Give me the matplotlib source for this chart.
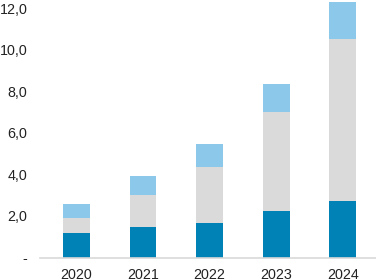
import matplotlib
matplotlib.use("Agg")
from matplotlib import pyplot as plt
import numpy as np

years = ["2020", "2021", "2022", "2023", "2024"]
base = [1.2, 1.45, 1.68, 2.26, 2.71]
middle = [0.7, 1.56, 2.70, 4.77, 7.81]
upper = [0.7, 0.92, 1.07, 1.32, 1.80]
y_ticks = [0, 2, 4, 6, 8, 10, 12]
y_labels = ["-", "2,0", "4,0", "6,0", "8,0", "10,0", "12,0"]


def main():
    plt.rcParams["font.family"] = ["Liberation Sans", "DejaVu Sans"]
    plt.rcParams["font.size"] = 10.3
    fig = plt.figure(figsize=(3.76, 2.8), dpi=100)
    ax = fig.add_axes([40 / 376, 22.5 / 280, 1 - 40 / 376, 1 - 22.5 / 280])
    x = np.arange(len(years))
    width = 0.4
    ax.bar(x, base, width, color="#0082B6")
    ax.bar(x, middle, width, bottom=base, color="#DADADA")
    bottom2 = np.array(base) + np.array(middle)
    ax.bar(x, upper, width, bottom=bottom2, color="#8CC8EA")

    ax.set_xlim(-0.55, 4.5)
    ax.set_ylim(0, 12.4)
    ax.set_xticks(x)
    ax.set_xticklabels(years)
    ax.set_yticks(y_ticks)
    ax.set_yticklabels(y_labels)
    ax.tick_params(length=0, colors="#222222")
    ax.tick_params(axis="y", pad=9)
    ax.tick_params(axis="x", pad=7.5)
    for side in ["top", "right", "left"]:
        ax.spines[side].set_visible(False)
    ax.spines["bottom"].set_color("#D9D9D9")
    ax.spines["bottom"].set_linewidth(1.2)
    fig.savefig("out.png", dpi=100)


if __name__ == "__main__":
    main()
